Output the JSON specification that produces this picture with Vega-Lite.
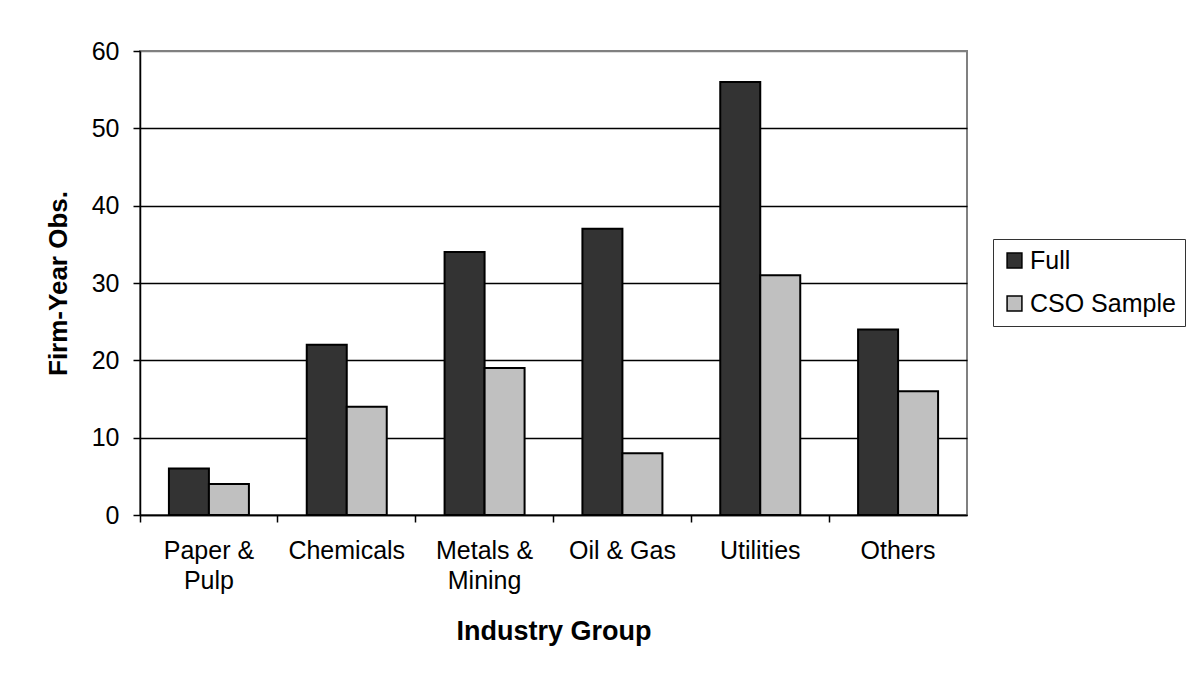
{
  "$schema": "https://vega.github.io/schema/vega-lite/v6.json",
  "width": 827,
  "height": 464,
  "autosize": {"type": "none"},
  "padding": {"left": 140, "top": 51, "right": 222, "bottom": 164},
  "background": "white",
  "config": {
    "font": "Liberation Sans",
    "view": {"stroke": "#808080", "strokeWidth": 2},
    "legend": {
      "strokeColor": "#333333",
      "padding": 9,
      "fillColor": "white",
      "symbolStrokeWidth": 1.5
    }
  },
  "data": {
    "values": [
      {"industry": "Paper & Pulp", "series": "Full", "obs": 6},
      {"industry": "Paper & Pulp", "series": "CSO Sample", "obs": 4},
      {"industry": "Chemicals", "series": "Full", "obs": 22},
      {"industry": "Chemicals", "series": "CSO Sample", "obs": 14},
      {"industry": "Metals & Mining", "series": "Full", "obs": 34},
      {"industry": "Metals & Mining", "series": "CSO Sample", "obs": 19},
      {"industry": "Oil & Gas", "series": "Full", "obs": 37},
      {"industry": "Oil & Gas", "series": "CSO Sample", "obs": 8},
      {"industry": "Utilities", "series": "Full", "obs": 56},
      {"industry": "Utilities", "series": "CSO Sample", "obs": 31},
      {"industry": "Others", "series": "Full", "obs": 24},
      {"industry": "Others", "series": "CSO Sample", "obs": 16}
    ]
  },
  "mark": {"type": "bar", "stroke": "black", "strokeWidth": 2},
  "encoding": {
    "x": {
      "field": "industry",
      "type": "nominal",
      "sort": ["Paper & Pulp", "Chemicals", "Metals & Mining", "Oil & Gas", "Utilities", "Others"],
      "scale": {"paddingInner": 0, "paddingOuter": 0},
      "axis": {
        "title": "Industry Group",
        "titleFontSize": 27,
        "titleFontWeight": "bold",
        "titleColor": "black",
        "titlePadding": 25,
        "labelAngle": 0,
        "labelFontSize": 25,
        "labelColor": "black",
        "labelPadding": 16,
        "labelLineHeight": 30,
        "labelExpr": "datum.label == 'Paper & Pulp' ? ['Paper &', 'Pulp'] : datum.label == 'Metals & Mining' ? ['Metals &', 'Mining'] : datum.label",
        "bandPosition": 0,
        "tickSize": 7,
        "tickColor": "black",
        "tickWidth": 1.5,
        "domainColor": "black",
        "domainWidth": 1.5
      }
    },
    "xOffset": {
      "field": "series",
      "sort": ["Full", "CSO Sample"],
      "scale": {"paddingInner": 0, "paddingOuter": 0.723}
    },
    "y": {
      "field": "obs",
      "type": "quantitative",
      "scale": {"domain": [0, 60], "nice": false},
      "axis": {
        "title": "Firm-Year Obs.",
        "titleFontSize": 26,
        "titleFontWeight": "bold",
        "titleColor": "black",
        "titlePadding": 20,
        "values": [0, 10, 20, 30, 40, 50, 60],
        "labelFontSize": 25,
        "labelColor": "black",
        "labelPadding": 14,
        "tickSize": 7,
        "tickColor": "black",
        "tickWidth": 1.5,
        "domainColor": "black",
        "domainWidth": 1.5,
        "grid": true,
        "gridColor": {"condition": {"test": "datum.value == 60", "value": "#808080"}, "value": "black"},
        "gridWidth": 1.5
      }
    },
    "color": {
      "field": "series",
      "type": "nominal",
      "sort": ["Full", "CSO Sample"],
      "scale": {"domain": ["Full", "CSO Sample"], "range": ["#333333", "#c0c0c0"]},
      "legend": {
        "title": null,
        "orient": "none",
        "legendX": 853,
        "legendY": 188,
        "labelFontSize": 25,
        "labelColor": "black",
        "labelOffset": 3,
        "symbolType": "square",
        "symbolSize": 220,
        "symbolStrokeColor": "black",
        "rowPadding": 17
      }
    }
  }
}
